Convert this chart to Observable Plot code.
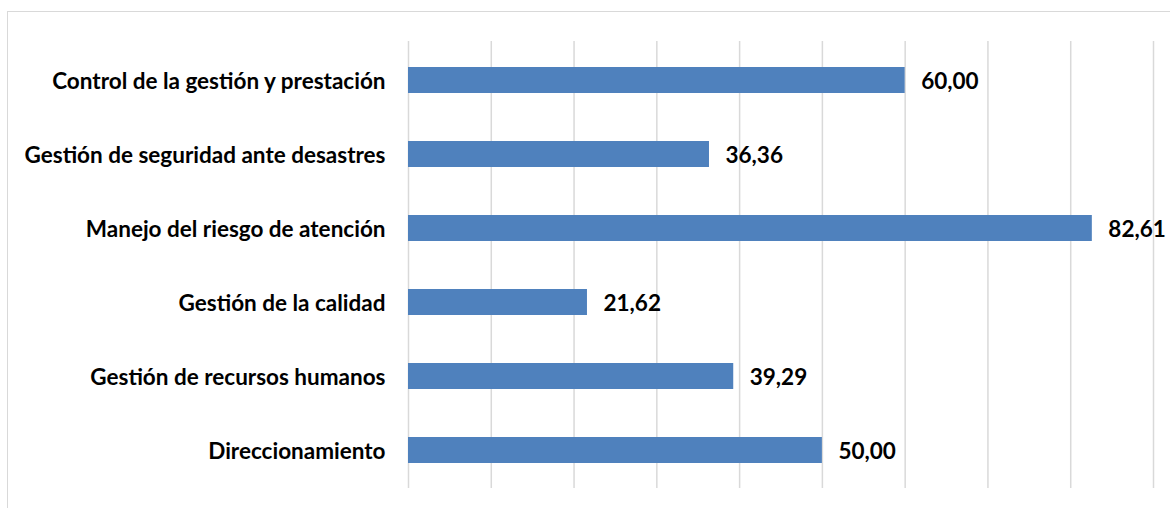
<!DOCTYPE html>
<html>
<head>
<meta charset="utf-8">
<script src="https://cdn.jsdelivr.net/npm/d3@7"></script>
<script src="https://cdn.jsdelivr.net/npm/@observablehq/plot@0.6"></script>
<style>
  html, body { margin: 0; padding: 0; background: #fff; width: 1170px; height: 508px; overflow: hidden; }
  #wrap { position: relative; width: 1170px; height: 508px; }
  #frame { position: absolute; left: 7px; top: 11px; width: 1200px; height: 520px; border: 1.3px solid #d9d9d9; box-sizing: border-box; }
  #chart { position: absolute; left: 0; top: 0; }
</style>
</head>
<body>
<div id="wrap"><div id="frame"></div><div id="chart"></div></div>
<script>
const categories = [
  "Control de la gestión y prestación",
  "Gestión de seguridad ante desastres",
  "Manejo del riesgo de atención",
  "Gestión de la calidad",
  "Gestión de recursos humanos",
  "Direccionamiento"
];
const values = [60.00, 36.36, 82.61, 21.62, 39.29, 50.00];
const gridTicks = [0, 10, 20, 30, 40, 50, 60, 70, 80, 90];

const data = categories.map((c, i) => ({category: c, value: values[i]}));
const fmt = v => v.toFixed(2).replace(".", ",");

const chart = Plot.plot({
  width: 1170,
  height: 508,
  marginLeft: 408,
  marginRight: 17,
  marginTop: 41,
  marginBottom: 20,
  style: {fontFamily: "Lato, 'Open Sans', sans-serif", fontSize: "22.5px", fontWeight: "bold", color: "#000", background: "transparent"},
  x: {domain: [0, 90], axis: null},
  y: {domain: categories, paddingInner: 0.65, paddingOuter: 0.33, label: null},
  marks: [
    Plot.ruleX(gridTicks, {stroke: "#d9d9d9", strokeWidth: 1.5, strokeOpacity: 1}),
    Plot.barX(data, {x: "value", y: "category", fill: "#4f81bd"}),
    Plot.text(data, {x: "value", y: "category", text: d => fmt(d.value), textAnchor: "start", dx: 16, dy: 1, fontSize: 22.5, fontWeight: "bold", fill: "#000"}),
    Plot.axisY({tickSize: 0, tickPadding: 23, dy: 1, label: null, fontSize: 22.5, fontWeight: "bold", fill: "#000"})
  ]
});
document.getElementById("chart").appendChild(chart);
</script>
</body>
</html>
